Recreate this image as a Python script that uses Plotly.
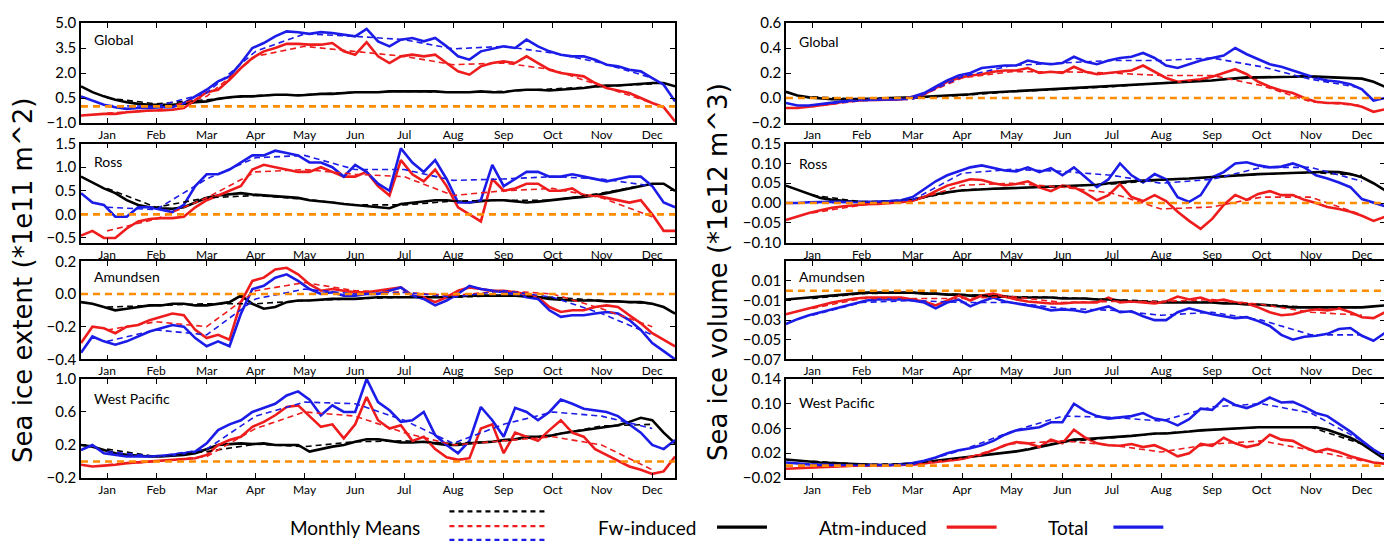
import plotly.graph_objects as go

# ---------------- data ----------------
DAYS = [1, 8, 15, 22, 29, 36, 43, 50, 57, 64, 71, 78, 85, 92, 99, 106, 113, 120, 127, 134,
        141, 148, 155, 162, 169, 176, 183, 190, 197, 204, 211, 218, 225, 232, 239, 246, 253,
        260, 267, 274, 281, 288, 295, 302, 309, 316, 323, 330, 337, 344, 351, 358, 365]
MONTH_DAYS = [17, 47, 78, 108, 138, 169, 199, 229, 260, 290, 320, 351]
MONTHS = ["Jan", "Feb", "Mar", "Apr", "May", "Jun", "Jul", "Aug", "Sep", "Oct", "Nov", "Dec"]

# --- Sea ice extent (1e11 m^2) ---
ext_global_fw = [1.2, 0.85, 0.6, 0.4, 0.25, 0.15, 0.1, 0.1, 0.1, 0.15, 0.25, 0.3, 0.45, 0.55, 0.6, 0.6, 0.65, 0.7, 0.7, 0.65,
                 0.7, 0.75, 0.75, 0.8, 0.85, 0.85, 0.85, 0.9, 0.9, 0.9, 0.9, 0.9, 0.85, 0.85, 0.85, 0.9, 0.85,
                 0.85, 0.95, 1.0, 1.0, 0.95, 1.0, 1.05, 1.1, 1.2, 1.25, 1.25, 1.3, 1.35, 1.4, 1.4, 1.2]
ext_global_atm = [-0.55, -0.5, -0.45, -0.45, -0.35, -0.3, -0.25, -0.25, -0.2, -0.1, 0.4, 0.85, 1.0, 1.6, 2.3, 2.9, 3.3, 3.5, 3.75, 3.75,
                  3.7, 3.7, 3.8, 3.3, 3.1, 3.85, 3.0, 2.6, 3.0, 3.1, 3.0, 3.1, 2.6, 2.1, 1.9, 2.4, 2.6,
                  2.7, 2.6, 3.0, 2.6, 2.2, 2.0, 1.9, 1.8, 1.4, 1.1, 0.95, 0.8, 0.5, 0.2, -0.05, -0.9]
ext_global_tot = [0.6, 0.35, 0.1, -0.05, -0.15, -0.1, -0.1, -0.05, -0.05, 0.2, 0.6, 1.0, 1.5, 1.8, 2.6, 3.5, 3.8, 4.2, 4.5, 4.45,
                  4.35, 4.45, 4.4, 4.3, 4.2, 4.65, 3.9, 3.6, 4.0, 4.1, 3.9, 4.1, 3.6, 3.0, 2.8, 3.3, 3.45,
                  3.6, 3.5, 4.0, 3.6, 3.3, 3.1, 3.0, 3.0, 2.8, 2.5, 2.4, 2.2, 2.1, 1.7, 1.3, 0.3]
ext_global_fw_mm = [0.5, 0.15, 0.4, 0.65, 0.7, 0.85, 0.9, 0.85, 0.9, 1.05, 1.2, 1.35]
ext_global_atm_mm = [-0.4, -0.25, 0.6, 3.0, 3.6, 3.3, 3.0, 2.5, 2.6, 2.2, 1.2, 0.2]
ext_global_tot_mm = [0.05, 0.0, 0.8, 3.3, 4.35, 4.2, 4.0, 3.45, 3.6, 3.2, 2.6, 1.7]

ext_ross_fw = [0.8, 0.68, 0.55, 0.45, 0.3, 0.2, 0.15, 0.13, 0.12, 0.15, 0.25, 0.35, 0.4, 0.42, 0.45, 0.42, 0.4, 0.38, 0.37, 0.35,
               0.3, 0.28, 0.25, 0.22, 0.2, 0.17, 0.15, 0.13, 0.22, 0.25, 0.28, 0.3, 0.3, 0.28, 0.25, 0.28, 0.3,
               0.3, 0.27, 0.25, 0.27, 0.3, 0.33, 0.35, 0.37, 0.4, 0.45, 0.5, 0.55, 0.6, 0.65, 0.65, 0.5]
ext_ross_atm = [-0.45, -0.35, -0.5, -0.5, -0.3, -0.15, -0.1, -0.08, -0.08, -0.05, 0.15, 0.3, 0.4, 0.5, 0.6, 0.95, 1.05, 1.0, 0.95, 0.9,
                0.9, 1.0, 0.9, 0.8, 0.8, 0.9, 0.6, 0.4, 1.15, 0.85, 0.7, 0.95, 0.6, 0.15, 0.0, -0.15, 0.75,
                0.5, 0.55, 0.65, 0.65, 0.5, 0.5, 0.55, 0.4, 0.4, 0.35, 0.3, 0.25, 0.3, 0.0, -0.35, -0.35]
ext_ross_tot = [0.45, 0.25, 0.2, -0.05, -0.05, 0.15, 0.15, 0.1, 0.05, 0.2, 0.6, 0.85, 0.85, 0.95, 1.1, 1.25, 1.25, 1.35, 1.3, 1.25,
                1.1, 1.1, 1.0, 0.8, 1.05, 0.9, 0.65, 0.5, 1.4, 1.1, 0.9, 1.15, 0.75, 0.25, 0.25, 0.3, 1.05,
                0.6, 0.75, 0.9, 0.9, 0.8, 0.8, 0.85, 0.8, 0.75, 0.7, 0.75, 0.8, 0.8, 0.6, 0.25, 0.15]
ext_ross_fw_mm = [0.55, 0.15, 0.35, 0.4, 0.32, 0.2, 0.2, 0.28, 0.3, 0.3, 0.45, 0.65]
ext_ross_atm_mm = [-0.35, -0.1, 0.35, 0.9, 0.95, 0.85, 0.8, 0.4, 0.5, 0.55, 0.35, -0.05]
ext_ross_tot_mm = [0.15, 0.1, 0.75, 1.2, 1.25, 0.95, 0.95, 0.72, 0.75, 0.8, 0.75, 0.6]

ext_amund_fw = [-0.05, -0.06, -0.08, -0.1, -0.09, -0.08, -0.07, -0.07, -0.06, -0.06, -0.07, -0.07, -0.06, -0.05, -0.01, -0.06, -0.09, -0.08, -0.05, -0.04,
                -0.04, -0.035, -0.03, -0.03, -0.03, -0.025, -0.02, -0.02, -0.02, -0.02, -0.02, -0.02, -0.02, -0.015, -0.01, -0.01, -0.01,
                -0.01, -0.01, -0.015, -0.02, -0.03, -0.035, -0.04, -0.04, -0.04, -0.045, -0.045, -0.05, -0.05, -0.06, -0.08, -0.12]
ext_amund_atm = [-0.3, -0.2, -0.21, -0.24, -0.2, -0.19, -0.16, -0.14, -0.12, -0.13, -0.22, -0.27, -0.25, -0.28, -0.05, 0.08, 0.1, 0.15, 0.16, 0.12,
                 0.06, 0.02, 0.03, 0.02, 0.01, 0.01, 0.02, 0.03, 0.04, -0.01, -0.02, -0.05, -0.02, 0.02, 0.04, 0.03, 0.02,
                 0.02, 0.01, 0.0, -0.02, -0.08, -0.11, -0.1, -0.1, -0.08, -0.07, -0.08, -0.13, -0.18, -0.24, -0.28, -0.32]
ext_amund_tot = [-0.36, -0.26, -0.29, -0.31, -0.29, -0.26, -0.23, -0.21, -0.19, -0.2, -0.27, -0.32, -0.29, -0.32, -0.12, 0.03, 0.05, 0.1, 0.12, 0.08,
                 0.03, 0.0, 0.01, -0.01, -0.01, 0.0, 0.0, 0.02, 0.04, -0.01, -0.03, -0.07, -0.04, 0.0, 0.05, 0.03, 0.02,
                 0.01, 0.0, -0.02, -0.03, -0.1, -0.14, -0.13, -0.13, -0.12, -0.11, -0.12, -0.16, -0.22, -0.3, -0.35, -0.4]
ext_amund_fw_mm = [-0.08, -0.07, -0.06, -0.06, -0.04, -0.03, -0.02, -0.02, -0.01, -0.02, -0.04, -0.06]
ext_amund_atm_mm = [-0.22, -0.17, -0.2, 0.02, 0.07, 0.02, 0.01, -0.01, 0.02, 0.0, -0.09, -0.2]
ext_amund_tot_mm = [-0.29, -0.22, -0.25, -0.03, 0.03, 0.0, 0.01, -0.02, 0.02, -0.02, -0.12, -0.25]

ext_wp_fw = [0.2, 0.18, 0.14, 0.1, 0.08, 0.07, 0.06, 0.06, 0.07, 0.08, 0.1, 0.15, 0.2, 0.21, 0.22, 0.21, 0.22, 0.2, 0.2, 0.2,
             0.12, 0.15, 0.18, 0.2, 0.24, 0.27, 0.27, 0.25, 0.23, 0.23, 0.24, 0.22, 0.2, 0.2, 0.22, 0.23, 0.24,
             0.26, 0.27, 0.3, 0.3, 0.31, 0.34, 0.36, 0.38, 0.4, 0.42, 0.44, 0.48, 0.53, 0.5, 0.35, 0.22]
ext_wp_atm = [-0.04, -0.06, -0.05, -0.04, -0.02, -0.01, 0.0, 0.01, 0.02, 0.03, 0.04, 0.08, 0.2, 0.26, 0.3, 0.42, 0.48, 0.56, 0.66, 0.68,
              0.55, 0.42, 0.45, 0.28, 0.45, 0.78, 0.5, 0.4, 0.44, 0.25, 0.3, 0.15, 0.05, 0.02, 0.04, 0.4, 0.45,
              0.1, 0.35, 0.3, 0.25, 0.38, 0.5, 0.35, 0.3, 0.15, 0.08, 0.0, -0.06, -0.1, -0.15, -0.12, 0.06]
ext_wp_tot = [0.14, 0.2, 0.1, 0.08, 0.06, 0.06, 0.06, 0.07, 0.08, 0.1, 0.12, 0.22, 0.38, 0.45, 0.5, 0.6, 0.65, 0.7, 0.8, 0.85,
              0.75, 0.56, 0.68, 0.6, 0.6, 1.0, 0.72, 0.62, 0.48, 0.5, 0.6, 0.32, 0.2, 0.1, 0.25, 0.66, 0.5,
              0.3, 0.65, 0.6, 0.5, 0.6, 0.75, 0.7, 0.64, 0.62, 0.6, 0.55, 0.45, 0.35, 0.2, 0.15, 0.26]
ext_wp_fw_mm = [0.15, 0.06, 0.12, 0.21, 0.18, 0.24, 0.25, 0.22, 0.25, 0.32, 0.43, 0.45]
ext_wp_atm_mm = [-0.04, 0.0, 0.06, 0.4, 0.6, 0.55, 0.35, 0.2, 0.25, 0.3, 0.2, -0.1]
ext_wp_tot_mm = [0.12, 0.06, 0.15, 0.55, 0.72, 0.7, 0.5, 0.22, 0.45, 0.6, 0.55, 0.4]

# --- Sea ice volume (1e12 m^3) ---
vol_global_fw = [0.05, 0.02, 0.005, -0.005, -0.01, -0.01, -0.01, -0.01, -0.005, 0.0, 0.0, 0.005, 0.01, 0.015, 0.02, 0.02, 0.03, 0.04, 0.045, 0.05,
                 0.055, 0.06, 0.065, 0.07, 0.075, 0.08, 0.085, 0.09, 0.095, 0.1, 0.105, 0.11, 0.115, 0.12, 0.12, 0.125, 0.13,
                 0.14, 0.15, 0.16, 0.165, 0.165, 0.165, 0.17, 0.17, 0.175, 0.17, 0.17, 0.165, 0.16, 0.155, 0.13, 0.09]
vol_global_atm = [-0.08, -0.08, -0.07, -0.06, -0.045, -0.03, -0.02, -0.015, -0.015, -0.01, -0.01, 0.01, 0.03, 0.08, 0.13, 0.16, 0.18, 0.19, 0.21, 0.22,
                  0.22, 0.24, 0.2, 0.21, 0.2, 0.25, 0.21, 0.19, 0.2, 0.21, 0.22, 0.26, 0.21, 0.16, 0.13, 0.14, 0.15,
                  0.17, 0.2, 0.23, 0.19, 0.13, 0.09, 0.06, 0.04, 0.0, -0.03, -0.04, -0.04, -0.05, -0.07, -0.11, -0.09]
vol_global_tot = [-0.04, -0.06, -0.06, -0.05, -0.035, -0.025, -0.015, -0.015, -0.015, -0.01, -0.01, 0.01, 0.04, 0.09, 0.14, 0.18, 0.2, 0.24, 0.25, 0.26,
                  0.26, 0.3, 0.28, 0.27, 0.28, 0.33, 0.29, 0.27, 0.3, 0.32, 0.33, 0.36, 0.32, 0.26, 0.24, 0.27, 0.3,
                  0.32, 0.34, 0.4, 0.35, 0.31, 0.27, 0.25, 0.22, 0.19, 0.16, 0.14, 0.13, 0.11, 0.07, -0.02, 0.0]
vol_global_fw_mm = [0.01, -0.01, 0.0, 0.02, 0.05, 0.07, 0.09, 0.12, 0.14, 0.165, 0.17, 0.155]
vol_global_atm_mm = [-0.07, -0.02, -0.01, 0.16, 0.21, 0.21, 0.2, 0.18, 0.18, 0.1, -0.03, -0.06]
vol_global_tot_mm = [-0.06, -0.02, -0.01, 0.17, 0.26, 0.28, 0.3, 0.3, 0.32, 0.25, 0.15, 0.08]

vol_ross_fw = [0.044, 0.033, 0.022, 0.013, 0.008, 0.005, 0.003, 0.002, 0.002, 0.002, 0.004, 0.008, 0.015, 0.022, 0.027, 0.031, 0.033, 0.035, 0.036, 0.037,
               0.038, 0.039, 0.04, 0.041, 0.042, 0.043, 0.044, 0.046, 0.05, 0.053, 0.055, 0.057, 0.058, 0.059, 0.06, 0.062, 0.064,
               0.066, 0.068, 0.07, 0.072, 0.073, 0.074, 0.075, 0.076, 0.077, 0.078, 0.079, 0.078, 0.073, 0.065, 0.05, 0.032]
vol_ross_atm = [-0.043, -0.033, -0.025, -0.018, -0.012, -0.008, -0.005, -0.003, -0.002, 0.0, 0.002, 0.006, 0.015, 0.03, 0.044, 0.052, 0.06, 0.058, 0.05, 0.045,
                0.048, 0.055, 0.04, 0.03, 0.044, 0.04, 0.025, 0.007, 0.02, 0.048, 0.015, 0.005, 0.02, 0.005, -0.022, -0.045, -0.065,
                -0.04, -0.005, 0.02, 0.008, 0.023, 0.03, 0.02, 0.02, 0.008, 0.0, -0.01, -0.015, -0.022, -0.032, -0.045, -0.035]
vol_ross_tot = [0.0, 0.0, 0.002, 0.003, 0.003, 0.003, 0.003, 0.003, 0.004, 0.005, 0.007, 0.015, 0.035, 0.055, 0.07, 0.08, 0.09, 0.095, 0.088, 0.082,
                0.08, 0.09, 0.078, 0.088, 0.07, 0.09, 0.065, 0.04, 0.06, 0.1, 0.07, 0.052, 0.073, 0.06, 0.015, 0.003, 0.02,
                0.065, 0.078, 0.1, 0.103, 0.095, 0.09, 0.092, 0.1, 0.09, 0.07, 0.062, 0.052, 0.04, 0.01, 0.0, -0.008]
vol_ross_fw_mm = [0.02, 0.003, 0.008, 0.033, 0.038, 0.042, 0.048, 0.058, 0.065, 0.073, 0.077, 0.07]
vol_ross_atm_mm = [-0.025, -0.005, 0.005, 0.045, 0.05, 0.04, 0.025, -0.015, -0.01, 0.015, 0.015, -0.03]
vol_ross_tot_mm = [0.0, 0.002, 0.008, 0.075, 0.085, 0.08, 0.07, 0.05, 0.06, 0.09, 0.09, 0.055]

vol_amund_fw = [-0.009, -0.008, -0.007, -0.006, -0.005, -0.004, -0.003, -0.002, -0.002, -0.002, -0.002, -0.002, -0.003, -0.003, -0.004, -0.004, -0.005, -0.005, -0.006, -0.006,
                -0.007, -0.007, -0.007, -0.007, -0.008, -0.008, -0.008, -0.009, -0.009, -0.01, -0.011, -0.011, -0.012, -0.012, -0.012, -0.012, -0.012,
                -0.012, -0.013, -0.013, -0.014, -0.014, -0.015, -0.016, -0.017, -0.017, -0.017, -0.017, -0.017, -0.017, -0.017, -0.016, -0.015]
vol_amund_atm = [-0.024, -0.021, -0.018, -0.015, -0.012, -0.01, -0.008, -0.007, -0.007, -0.007, -0.007, -0.009, -0.011, -0.015, -0.01, -0.005, -0.01, -0.005, -0.003, -0.006,
                 -0.009, -0.011, -0.012, -0.013, -0.013, -0.012, -0.012, -0.012, -0.007, -0.012, -0.011, -0.012, -0.013, -0.011, -0.006, -0.009, -0.007,
                 -0.011, -0.009, -0.012, -0.013, -0.017, -0.022, -0.025, -0.024, -0.021, -0.019, -0.02, -0.018, -0.022, -0.027, -0.028, -0.022]
vol_amund_tot = [-0.034, -0.029, -0.025, -0.022, -0.019, -0.016, -0.013, -0.01, -0.009, -0.009, -0.009, -0.01, -0.012, -0.018, -0.012, -0.009, -0.016, -0.011, -0.007, -0.011,
                 -0.013, -0.015, -0.017, -0.02, -0.019, -0.02, -0.022, -0.019, -0.016, -0.022, -0.021, -0.026, -0.03, -0.03, -0.022, -0.018, -0.021,
                 -0.024, -0.026, -0.028, -0.027, -0.031, -0.036, -0.045, -0.05, -0.047, -0.046, -0.044, -0.039, -0.038, -0.046, -0.051, -0.043]
vol_amund_fw_mm = [-0.008, -0.003, -0.002, -0.004, -0.006, -0.007, -0.009, -0.011, -0.012, -0.014, -0.017, -0.017]
vol_amund_atm_mm = [-0.018, -0.008, -0.008, -0.008, -0.006, -0.012, -0.011, -0.011, -0.009, -0.014, -0.022, -0.025]
vol_amund_tot_mm = [-0.025, -0.012, -0.01, -0.012, -0.012, -0.018, -0.02, -0.025, -0.022, -0.03, -0.045, -0.045]

vol_wp_fw = [0.01, 0.008, 0.006, 0.005, 0.004, 0.003, 0.002, 0.002, 0.001, 0.001, 0.002, 0.003, 0.005, 0.008, 0.01, 0.012, 0.014, 0.016, 0.018, 0.02,
             0.023, 0.026, 0.03, 0.034, 0.038, 0.042, 0.043, 0.044, 0.045, 0.046, 0.048, 0.05, 0.052, 0.052, 0.053, 0.055, 0.057,
             0.058, 0.06, 0.061, 0.062, 0.062, 0.062, 0.062, 0.063, 0.063, 0.062, 0.058, 0.052, 0.045, 0.035, 0.022, 0.01]
vol_wp_atm = [-0.005, -0.004, -0.003, -0.002, -0.001, 0.0, 0.0, 0.0, 0.0, 0.0, 0.001, 0.002, 0.004, 0.006, 0.008, 0.01, 0.014, 0.018, 0.025, 0.033,
              0.038, 0.036, 0.03, 0.042, 0.036, 0.058, 0.045, 0.036, 0.033, 0.032, 0.035, 0.03, 0.033, 0.025, 0.015, 0.02, 0.035,
              0.032, 0.045, 0.036, 0.03, 0.034, 0.05, 0.042, 0.04, 0.03, 0.022, 0.027, 0.022, 0.015, 0.01, 0.005, 0.003]
vol_wp_tot = [0.005, 0.003, 0.002, 0.001, 0.001, 0.0, 0.0, 0.0, 0.0, 0.001, 0.002, 0.004, 0.008, 0.013, 0.02, 0.025, 0.028, 0.033, 0.04, 0.05,
              0.057, 0.06, 0.062, 0.07, 0.07, 0.1, 0.088, 0.08, 0.076, 0.078, 0.08, 0.085, 0.076, 0.073, 0.065, 0.075, 0.092,
              0.09, 0.108, 0.098, 0.093, 0.1, 0.11, 0.102, 0.103, 0.095, 0.085, 0.08, 0.068, 0.055, 0.04, 0.026, 0.015]
vol_wp_fw_mm = [0.007, 0.002, 0.003, 0.012, 0.022, 0.038, 0.045, 0.052, 0.058, 0.062, 0.062, 0.035]
vol_wp_atm_mm = [-0.003, 0.0, 0.001, 0.01, 0.035, 0.04, 0.033, 0.022, 0.035, 0.04, 0.025, 0.008]
vol_wp_tot_mm = [0.003, 0.0, 0.002, 0.025, 0.055, 0.08, 0.078, 0.072, 0.095, 0.1, 0.085, 0.04]

# panel definitions: (name, fw, atm, tot, fw_mm, atm_mm, tot_mm, range, tickvals, ticktext, label_y)
PANELS = [
    ("Global", ext_global_fw, ext_global_atm, ext_global_tot, ext_global_fw_mm, ext_global_atm_mm, ext_global_tot_mm,
     [-1.0, 5.0], [-1.0, 0.5, 2.0, 3.5, 5.0], ["\u22121.0", "0.5", "2.0", "3.5", "5.0"], 0.84),
    ("Global", vol_global_fw, vol_global_atm, vol_global_tot, vol_global_fw_mm, vol_global_atm_mm, vol_global_tot_mm,
     [-0.2, 0.6], [-0.2, 0.0, 0.2, 0.4, 0.6], ["\u22120.2", "0.0", "0.2", "0.4", "0.6"], 0.82),
    ("Ross", ext_ross_fw, ext_ross_atm, ext_ross_tot, ext_ross_fw_mm, ext_ross_atm_mm, ext_ross_tot_mm,
     [-0.6, 1.5], [-0.5, 0.0, 0.5, 1.0, 1.5], ["\u22120.5", "0.0", "0.5", "1.0", "1.5"], 0.82),
    ("Ross", vol_ross_fw, vol_ross_atm, vol_ross_tot, vol_ross_fw_mm, vol_ross_atm_mm, vol_ross_tot_mm,
     [-0.1, 0.15], [-0.1, -0.05, 0.0, 0.05, 0.1, 0.15], ["\u22120.10", "\u22120.05", "0.00", "0.05", "0.10", "0.15"], 0.80),
    ("Amundsen", ext_amund_fw, ext_amund_atm, ext_amund_tot, ext_amund_fw_mm, ext_amund_atm_mm, ext_amund_tot_mm,
     [-0.4, 0.2], [-0.4, -0.2, 0.0, 0.2], ["\u22120.4", "\u22120.2", "0.0", "0.2"], 0.84),
    ("Amundsen", vol_amund_fw, vol_amund_atm, vol_amund_tot, vol_amund_fw_mm, vol_amund_atm_mm, vol_amund_tot_mm,
     [-0.07, 0.03], [-0.07, -0.05, -0.03, -0.01, 0.01, 0.03], ["\u22120.07", "\u22120.05", "\u22120.03", "\u22120.01", "0.01", ""], 0.84),
    ("West Pacific", ext_wp_fw, ext_wp_atm, ext_wp_tot, ext_wp_fw_mm, ext_wp_atm_mm, ext_wp_tot_mm,
     [-0.2, 1.0], [-0.2, 0.2, 0.6, 1.0], ["\u22120.2", "0.2", "0.6", "1.0"], 0.80),
    ("West Pacific", vol_wp_fw, vol_wp_atm, vol_wp_tot, vol_wp_fw_mm, vol_wp_atm_mm, vol_wp_tot_mm,
     [-0.02, 0.14], [-0.02, 0.02, 0.06, 0.10, 0.14], ["\u22120.02", "0.02", "0.06", "0.10", "0.14"], 0.76),
]

# ---------------- layout geometry (screen px, page has an 8px body margin) ----------------
OFF = 8
W, H = 1392 - OFF, 543 - OFF
LEFT_PX, RIGHT_PX, TOP_PX, BOT_PX = 81, 1387, 14, 478   # plot-area extent on screen
ML, MR = LEFT_PX - OFF, W - (RIGHT_PX - OFF)
MT, MB = TOP_PX - OFF, H - (BOT_PX - OFF)
PW, PH = W - ML - MR, H - MT - MB


def px_x(v):
    return (v - LEFT_PX) / PW


def px_y(v):
    return (BOT_PX - v) / PH


X_DOM = [[px_x(81), px_x(676)], [px_x(787), 1.0]]
ROW_PX = [(14, 116), (137, 238), (257, 357), (377, 478)]
Y_DOM = [[px_y(b), px_y(t)] for (t, b) in ROW_PX]

BLACK, RED, BLUE, ORANGE = "#000000", "#ee1c1c", "#1c1ce8", "#ff8c00"
TICK_FONT = "Lato, 'Open Sans', sans-serif"

fig = go.Figure()
layout = {}
for i, p in enumerate(PANELS):
    name, fw, atm, tot, fw_mm, atm_mm, tot_mm, yr, tv, tt, ly = p
    row, col = i // 2, i % 2
    k = i + 1
    xa, ya = ("x" if k == 1 else f"x{k}"), ("y" if k == 1 else f"y{k}")
    for series, colr in ((fw, BLACK), (atm, RED), (tot, BLUE)):
        fig.add_trace(go.Scatter(x=DAYS, y=series, mode="lines", xaxis=xa, yaxis=ya,
                                 line=dict(color=colr, width=2.6), showlegend=False, hoverinfo="skip"))
    for series, colr in ((fw_mm, BLACK), (atm_mm, RED), (tot_mm, BLUE)):
        fig.add_trace(go.Scatter(x=MONTH_DAYS, y=series, mode="lines", xaxis=xa, yaxis=ya,
                                 line=dict(color=colr, width=1.6, dash="6px,4px"), showlegend=False, hoverinfo="skip"))
    axcommon = dict(showline=True, linecolor="black", linewidth=1.5, mirror="ticks", ticks="inside",
                    ticklen=5, tickwidth=1, tickcolor="black", showgrid=False, zeroline=False)
    layout["xaxis" if k == 1 else f"xaxis{k}"] = dict(
        domain=X_DOM[col], anchor=ya, range=[1, 365], tickvals=MONTH_DAYS, ticktext=MONTHS,
        tickfont=dict(family=TICK_FONT, size=12, color="black"), **axcommon)
    layout["yaxis" if k == 1 else f"yaxis{k}"] = dict(
        domain=Y_DOM[row], anchor=xa, range=yr, tickvals=tv, ticktext=tt,
        tickfont=dict(family=TICK_FONT, size=15, color="black"), **axcommon)
    fig.add_shape(type="line", xref=f"{xa} domain", yref=ya, x0=0, x1=1, y0=0, y1=0,
                  line=dict(color=ORANGE, width=2.6, dash="7px,5px"), layer="above")
    fig.add_annotation(text=name, xref=f"{xa} domain", yref=f"{ya} domain", x=0.018, y=ly,
                       xanchor="left", yanchor="middle", showarrow=False,
                       font=dict(family=TICK_FONT, size=14, color="black"))

fig.update_layout(**layout)

# axis titles
fig.add_annotation(text="Sea ice extent (*1e11 m^2)", xref="paper", yref="paper",
                   x=px_x(23), y=px_y(277), textangle=-90, showarrow=False,
                   xanchor="center", yanchor="middle",
                   font=dict(family="DejaVu Sans", size=26, color="black"))
fig.add_annotation(text="Sea ice volume (*1e12 m^3)", xref="paper", yref="paper",
                   x=px_x(719), y=px_y(268), textangle=-90, showarrow=False,
                   xanchor="center", yanchor="middle",
                   font=dict(family="DejaVu Sans", size=26, color="black"))

# legend (drawn in paper space)
LEG_FONT = dict(family=TICK_FONT, size=19, color="black")
for txt, cx in (("Monthly Means", 355), ("Fw-induced", 648), ("Atm-induced", 874), ("Total", 1070)):
    fig.add_annotation(text=txt, xref="paper", yref="paper", x=px_x(cx), y=px_y(528),
                       xanchor="center", yanchor="middle", showarrow=False, font=LEG_FONT)
for colr, yy in ((BLACK, 512), (RED, 527), (BLUE, 541)):
    fig.add_shape(type="line", xref="paper", yref="paper", x0=px_x(450), x1=px_x(547),
                  y0=px_y(yy), y1=px_y(yy), line=dict(color=colr, width=2.2, dash="5px,4px"))
for colr, x0 in ((BLACK, 718), (RED, 948), (BLUE, 1115)):
    fig.add_shape(type="line", xref="paper", yref="paper", x0=px_x(x0), x1=px_x(x0 + 50),
                  y0=px_y(528), y1=px_y(528), line=dict(color=colr, width=3.2))

fig.update_layout(width=W, height=H, margin=dict(l=ML, r=MR, t=MT, b=MB),
                  paper_bgcolor="white", plot_bgcolor="white", showlegend=False)
fig.write_html("out.html")
